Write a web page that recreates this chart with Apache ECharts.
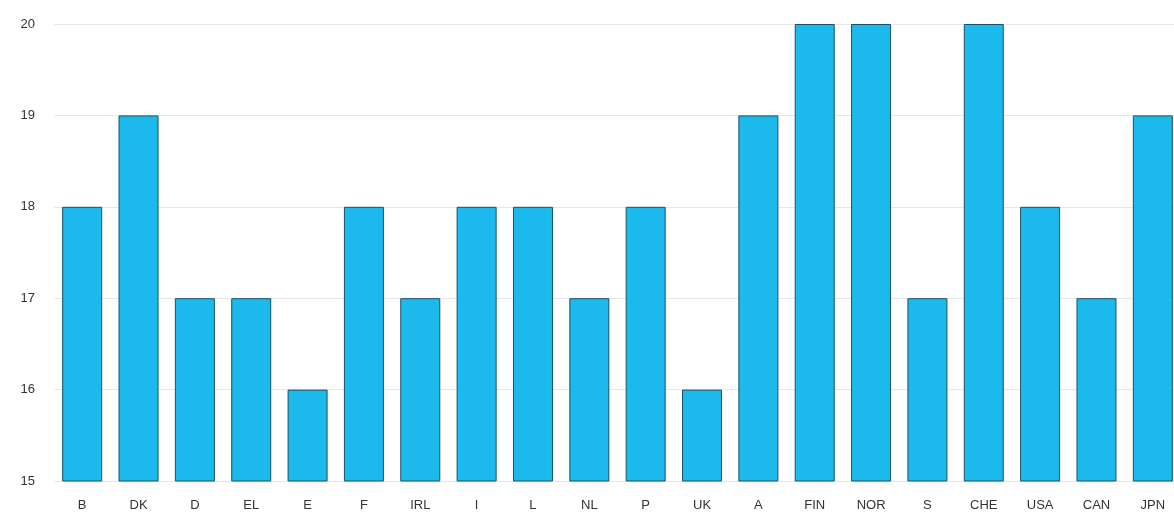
<!DOCTYPE html>
<html>
<head>
<meta charset="utf-8">
<script src="https://cdn.jsdelivr.net/npm/echarts@6/dist/echarts.min.js"></script>
<style>
  html, body { margin: 0; padding: 0; background: #fff; overflow: hidden; }
  /* the canvas is a few pixels wider than the window so the last bar sits flush with the edge */
  #chart { width: 1181px; height: 523px; }
</style>
</head>
<body>
<div id="chart"></div>
<script>
// Country codes along the x axis
const countries = ['B', 'DK', 'D', 'EL', 'E', 'F', 'IRL', 'I', 'L', 'NL', 'P', 'UK', 'A', 'FIN', 'NOR', 'S', 'CHE', 'USA', 'CAN', 'JPN'];
// Value per country
const values = [18, 19, 17, 17, 16, 18, 17, 18, 18, 17, 18, 16, 19, 20, 20, 17, 20, 18, 17, 19];
// Value axis range
const yMin = 15;
const yMax = 20;
const yStep = 1;

const chart = echarts.init(document.getElementById('chart'), null, { renderer: 'canvas' });
chart.setOption({
  animation: false,
  grid: { left: 54, right: 0, top: 24, bottom: 42, containLabel: false },
  xAxis: {
    type: 'category',
    data: countries,
    axisLine: { show: false },
    axisTick: { show: false },
    axisLabel: {
      margin: 18,
      color: '#333',
      fontFamily: 'Liberation Sans, Arial, sans-serif',
      fontSize: 13,
      interval: 0
    }
  },
  yAxis: {
    type: 'value',
    min: yMin,
    max: yMax,
    interval: yStep,
    axisLine: { show: false },
    axisTick: { show: false },
    axisLabel: {
      margin: 19,
      color: '#333',
      fontFamily: 'Liberation Sans, Arial, sans-serif',
      fontSize: 13
    },
    splitLine: { lineStyle: { color: '#e6e6e6', width: 1 } }
  },
  series: [{
    type: 'bar',
    data: values,
    barWidth: '71%',
    itemStyle: {
      color: '#1cb9ec',
      borderColor: '#1b5068',
      borderWidth: 1
    }
  }]
});
</script>
</body>
</html>
